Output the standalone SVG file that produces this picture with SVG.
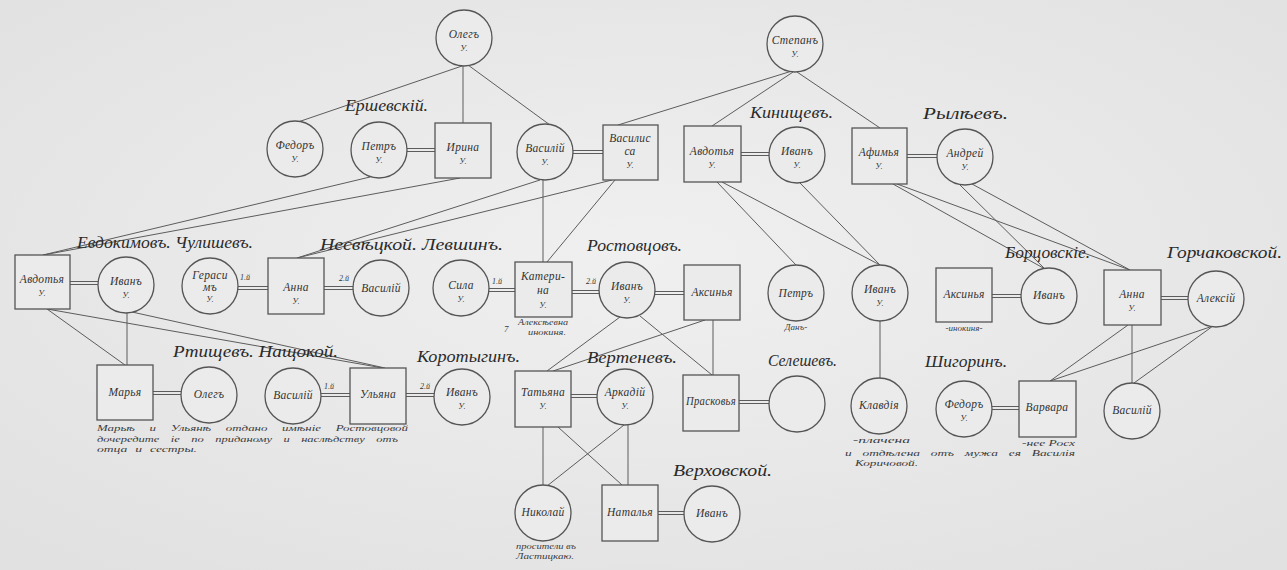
<svg xmlns="http://www.w3.org/2000/svg" width="1287" height="570" viewBox="0 0 1287 570">
<defs>
<radialGradient id="bg" cx="50%" cy="45%" r="70%">
<stop offset="0" stop-color="#f0f0f0"/>
<stop offset="1" stop-color="#e1e1e1"/>
</radialGradient>
</defs>
<style>
.c,.s{fill:#ebebeb;stroke:#555;stroke-width:1.3}
.n{font-family:"Liberation Serif","DejaVu Serif",serif;font-style:italic;font-size:11.5px;letter-spacing:0.3px;fill:#333;text-anchor:middle}
.u{font-family:"Liberation Serif","DejaVu Serif",serif;font-style:italic;font-size:8.5px;fill:#333;text-anchor:middle}
.h{font-family:"Liberation Serif","DejaVu Serif",serif;font-style:italic;font-size:16px;fill:#2a2a2a}
.a{font-family:"Liberation Serif","DejaVu Serif",serif;font-style:italic;font-size:9px;fill:#3a3a3a}
.sup{font-family:"Liberation Serif","DejaVu Serif",serif;font-style:italic;font-size:8px;fill:#333}
.l line{stroke:#5c5c5c;stroke-width:1}
.m line{stroke:#5c5c5c;stroke-width:1}
</style>
<rect width="1287" height="570" fill="url(#bg)"/>

<g id="connectors">
<g class="l">
<line x1="462" y1="66" x2="298" y2="122"/>
<line x1="463" y1="66" x2="463" y2="123"/>
<line x1="468" y1="65" x2="550" y2="125"/>
<line x1="792" y1="71" x2="618" y2="125"/>
<line x1="793" y1="72" x2="712" y2="126"/>
<line x1="797" y1="72" x2="880" y2="128"/>
<line x1="370" y1="177" x2="43" y2="255"/>
<line x1="460" y1="178" x2="43" y2="255"/>
<line x1="540" y1="180" x2="297" y2="258"/>
<line x1="612" y1="180" x2="297" y2="258"/>
<line x1="543" y1="180" x2="543" y2="262"/>
<line x1="615" y1="180" x2="547" y2="262"/>
<line x1="717" y1="182" x2="796" y2="265"/>
<line x1="722" y1="182" x2="880" y2="265"/>
<line x1="800" y1="183" x2="880" y2="265"/>
<line x1="893" y1="184" x2="1045" y2="269"/>
<line x1="897" y1="184" x2="1130" y2="270"/>
<line x1="960" y1="185" x2="1045" y2="269"/>
<line x1="972" y1="184" x2="1130" y2="270"/>
<line x1="127" y1="313" x2="127" y2="365"/>
<line x1="47" y1="309" x2="125" y2="365"/>
<line x1="47" y1="309" x2="383" y2="368"/>
<line x1="132" y1="312" x2="385" y2="368"/>
<line x1="620" y1="317" x2="547" y2="371"/>
<line x1="705" y1="320" x2="553" y2="371"/>
<line x1="640" y1="316" x2="712" y2="375"/>
<line x1="713" y1="320" x2="713" y2="375"/>
<line x1="880" y1="321" x2="880" y2="378"/>
<line x1="543" y1="427" x2="543" y2="485"/>
<line x1="624" y1="425" x2="547" y2="486"/>
<line x1="558" y1="427" x2="622" y2="485"/>
<line x1="628" y1="425" x2="628" y2="485"/>
<line x1="1128" y1="325" x2="1050" y2="381"/>
<line x1="1132" y1="325" x2="1132" y2="383"/>
<line x1="1213" y1="326" x2="1050" y2="381"/>
<line x1="1213" y1="326" x2="1134" y2="383"/>
</g>
<g class="m">
<line x1="407" y1="148.5" x2="435" y2="148.5"/><line x1="407" y1="151.5" x2="435" y2="151.5"/>
<line x1="573" y1="150.5" x2="603" y2="150.5"/><line x1="573" y1="153.5" x2="603" y2="153.5"/>
<line x1="741" y1="152.5" x2="769" y2="152.5"/><line x1="741" y1="155.5" x2="769" y2="155.5"/>
<line x1="907" y1="154.5" x2="937" y2="154.5"/><line x1="907" y1="157.5" x2="937" y2="157.5"/>
<line x1="70" y1="281.5" x2="98" y2="281.5"/><line x1="70" y1="284.5" x2="98" y2="284.5"/>
<line x1="238" y1="286.5" x2="268" y2="286.5"/><line x1="238" y1="289.5" x2="268" y2="289.5"/>
<line x1="324" y1="286.5" x2="353" y2="286.5"/><line x1="324" y1="289.5" x2="353" y2="289.5"/>
<line x1="489" y1="288.5" x2="515" y2="288.5"/><line x1="489" y1="291.5" x2="515" y2="291.5"/>
<line x1="572" y1="290.5" x2="599" y2="290.5"/><line x1="572" y1="293.5" x2="599" y2="293.5"/>
<line x1="655" y1="291.5" x2="684" y2="291.5"/><line x1="655" y1="294.5" x2="684" y2="294.5"/>
<line x1="992" y1="294.5" x2="1021" y2="294.5"/><line x1="992" y1="297.5" x2="1021" y2="297.5"/>
<line x1="1161" y1="296.5" x2="1188" y2="296.5"/><line x1="1161" y1="299.5" x2="1188" y2="299.5"/>
<line x1="153" y1="391.5" x2="181" y2="391.5"/><line x1="153" y1="394.5" x2="181" y2="394.5"/>
<line x1="321" y1="393.5" x2="350" y2="393.5"/><line x1="321" y1="396.5" x2="350" y2="396.5"/>
<line x1="406" y1="393.5" x2="434" y2="393.5"/><line x1="406" y1="396.5" x2="434" y2="396.5"/>
<line x1="571" y1="394.5" x2="597" y2="394.5"/><line x1="571" y1="397.5" x2="597" y2="397.5"/>
<line x1="739" y1="400.5" x2="769" y2="400.5"/><line x1="739" y1="403.5" x2="769" y2="403.5"/>
<line x1="992" y1="406.5" x2="1019" y2="406.5"/><line x1="992" y1="409.5" x2="1019" y2="409.5"/>
<line x1="658" y1="511.5" x2="684" y2="511.5"/><line x1="658" y1="514.5" x2="684" y2="514.5"/>
</g>
</g>

<g id="headings">
<text class="h" x="345" y="111" textLength="83" lengthAdjust="spacingAndGlyphs">Ершевскій.</text>
<text class="h" x="750" y="118" textLength="83" lengthAdjust="spacingAndGlyphs">Кинищевъ.</text>
<text class="h" x="923" y="119" textLength="85" lengthAdjust="spacingAndGlyphs">Рылѣевъ.</text>
<text class="h" x="77" y="248" textLength="176" lengthAdjust="spacingAndGlyphs">Евдокимовъ. Чулишевъ.</text>
<text class="h" x="320" y="250" textLength="183" lengthAdjust="spacingAndGlyphs">Несвѣцкой. Левшинъ.</text>
<text class="h" x="587" y="251" textLength="95" lengthAdjust="spacingAndGlyphs">Ростовцовъ.</text>
<text class="h" x="1005" y="258" textLength="85" lengthAdjust="spacingAndGlyphs">Борцовскіе.</text>
<text class="h" x="1167" y="258" textLength="115" lengthAdjust="spacingAndGlyphs">Горчаковской.</text>
<text class="h" x="173" y="357" textLength="165" lengthAdjust="spacingAndGlyphs">Ртищевъ. Нащокой.</text>
<text class="h" x="417" y="362" textLength="103" lengthAdjust="spacingAndGlyphs">Коротыгинъ.</text>
<text class="h" x="587" y="363" textLength="90" lengthAdjust="spacingAndGlyphs">Вертеневъ.</text>
<text class="h" x="768" y="366" textLength="69" lengthAdjust="spacingAndGlyphs">Селешевъ.</text>
<text class="h" x="925" y="367" textLength="82" lengthAdjust="spacingAndGlyphs">Шигоринъ.</text>
<text class="h" x="673" y="476" textLength="99" lengthAdjust="spacingAndGlyphs">Верховской.</text>
</g>

<g id="marks">
<text class="sup" x="240" y="280">1.й</text>
<text class="sup" x="339" y="281">2.й</text>
<text class="sup" x="492" y="284">1.й</text>
<text class="sup" x="586" y="284">2.й</text>
<text class="sup" x="324" y="389">1.й</text>
<text class="sup" x="420" y="389">2.й</text>
</g>

<g id="oleg1"><circle class="c" cx="464" cy="38" r="28"/><text class="n" x="464" y="38">Олегъ</text><text class="u" x="464" y="51">У.</text></g>
<g id="stepan"><circle class="c" cx="795" cy="44" r="28"/><text class="n" x="795" y="44">Степанъ</text><text class="u" x="795" y="57">У.</text></g>
<g id="fedor1"><circle class="c" cx="295" cy="149" r="28"/><text class="n" x="295" y="149">Федоръ</text><text class="u" x="295" y="162">У.</text></g>
<g id="petr1"><circle class="c" cx="379" cy="150" r="28"/><text class="n" x="379" y="150">Петръ</text><text class="u" x="379" y="163">У.</text></g>
<g id="irina"><rect class="s" x="435" y="123" width="56" height="55"/><text class="n" x="463" y="151">Ирина</text><text class="u" x="463" y="164">У.</text></g>
<g id="vasiliy1"><circle class="c" cx="545" cy="152" r="28"/><text class="n" x="545" y="152">Василій</text><text class="u" x="545" y="165">У.</text></g>
<g id="vasilisa"><rect class="s" x="603" y="125" width="55" height="55"/><text class="n" x="630" y="142">Василис</text><text class="n" x="630" y="155">са</text><text class="u" x="630" y="168">У.</text></g>
<g id="avdotya1"><rect class="s" x="684" y="126" width="57" height="56"/><text class="n" x="712" y="155">Авдотья</text><text class="u" x="712" y="168">У.</text></g>
<g id="ivan1"><circle class="c" cx="797" cy="155" r="28"/><text class="n" x="797" y="155">Иванъ</text><text class="u" x="797" y="168">У.</text></g>
<g id="afimya"><rect class="s" x="852" y="128" width="55" height="56"/><text class="n" x="879" y="156">Афимья</text><text class="u" x="879" y="169">У.</text></g>
<g id="andrey"><circle class="c" cx="965" cy="157" r="28"/><text class="n" x="965" y="157">Андрей</text><text class="u" x="965" y="170">У.</text></g>

<g id="avdotya2"><rect class="s" x="15" y="255" width="55" height="54"/><text class="n" x="42" y="283">Авдотья</text><text class="u" x="42" y="296">У.</text></g>
<g id="ivan2"><circle class="c" cx="126" cy="285" r="28"/><text class="n" x="126" y="285">Иванъ</text><text class="u" x="126" y="298">У.</text></g>
<g id="gerasim"><circle class="c" cx="210" cy="286" r="28"/><text class="n" x="210" y="279">Гераси</text><text class="n" x="210" y="291">мъ</text><text class="u" x="210" y="302">У.</text></g>
<g id="anna1"><rect class="s" x="268" y="258" width="56" height="56"/><text class="n" x="296" y="291">Анна</text><text class="u" x="296" y="304">У.</text></g>
<g id="vasiliy2"><circle class="c" cx="381" cy="288" r="28"/><text class="n" x="381" y="292">Василій</text></g>
<g id="sila"><circle class="c" cx="461" cy="288" r="28"/><text class="n" x="461" y="289">Сила</text><text class="u" x="461" y="302">У.</text></g>
<g id="katerina"><rect class="s" x="515" y="262" width="57" height="55"/><text class="n" x="543" y="280">Катери-</text><text class="n" x="543" y="294">на</text><text class="u" x="543" y="308">У.</text><text class="a" x="518" y="325" textLength="50" lengthAdjust="spacingAndGlyphs">Алексѣевна</text><text class="a" x="528" y="335" textLength="38" lengthAdjust="spacingAndGlyphs">инокиня.</text><text class="a" x="504" y="332">7</text></g>
<g id="ivan3"><circle class="c" cx="627" cy="290" r="28"/><text class="n" x="627" y="290">Иванъ</text><text class="u" x="627" y="303">У.</text></g>
<g id="aksinya1"><rect class="s" x="684" y="265" width="56" height="55"/><text class="n" x="712" y="296">Аксинья</text></g>
<g id="petr2"><circle class="c" cx="796" cy="293" r="28"/><text class="n" x="796" y="297">Петръ</text><text class="a" x="796" y="330" text-anchor="middle">Данъ-</text></g>
<g id="ivan4"><circle class="c" cx="880" cy="293" r="28"/><text class="n" x="880" y="293">Иванъ</text><text class="u" x="880" y="306">У.</text></g>
<g id="aksinya2"><rect class="s" x="936" y="268" width="56" height="54"/><text class="n" x="964" y="298">Аксинья</text><text class="a" x="964" y="331" text-anchor="middle">-инокиня-</text></g>
<g id="ivan5"><circle class="c" cx="1049" cy="296" r="28"/><text class="n" x="1049" y="299">Иванъ</text></g>
<g id="anna2"><rect class="s" x="1104" y="270" width="57" height="55"/><text class="n" x="1132" y="298">Анна</text><text class="u" x="1132" y="311">У.</text></g>
<g id="aleksey"><circle class="c" cx="1216" cy="299" r="28"/><text class="n" x="1216" y="302">Алексій</text></g>

<g id="marya"><rect class="s" x="97" y="365" width="56" height="55"/><text class="n" x="125" y="396">Марья</text></g>
<g id="oleg2"><circle class="c" cx="209" cy="395" r="28"/><text class="n" x="209" y="398">Олегъ</text></g>
<g id="vasiliy3"><circle class="c" cx="293" cy="396" r="28"/><text class="n" x="293" y="399">Василій</text></g>
<g id="ulyana"><rect class="s" x="350" y="368" width="56" height="56"/><text class="n" x="378" y="398">Ульяна</text></g>
<g id="ivan6"><circle class="c" cx="462" cy="397" r="28"/><text class="n" x="462" y="396">Иванъ</text><text class="u" x="462" y="409">У.</text></g>
<g id="tatyana"><rect class="s" x="515" y="371" width="56" height="56"/><text class="n" x="543" y="396">Татьяна</text><text class="u" x="543" y="409">У.</text></g>
<g id="arkadiy"><circle class="c" cx="625" cy="397" r="28"/><text class="n" x="625" y="396">Аркадій</text><text class="u" x="625" y="409">У.</text></g>
<g id="praskovya"><rect class="s" x="683" y="375" width="56" height="56"/><text class="n" x="711" y="405" textLength="50" lengthAdjust="spacingAndGlyphs">Прасковья</text></g>
<g id="selesheva"><circle class="c" cx="797" cy="404" r="28"/></g>
<g id="klavdiya"><circle class="c" cx="879" cy="406" r="28"/><text class="n" x="879" y="409">Клавдія</text></g>
<g id="fedor2"><circle class="c" cx="964" cy="409" r="28"/><text class="n" x="964" y="408">Федоръ</text><text class="u" x="964" y="421">У.</text></g>
<g id="varvara"><rect class="s" x="1019" y="381" width="57" height="56"/><text class="n" x="1047" y="411">Варвара</text></g>
<g id="vasiliy4"><circle class="c" cx="1132" cy="411" r="28"/><text class="n" x="1132" y="414">Василій</text></g>

<g id="nikolay"><circle class="c" cx="543" cy="513" r="28"/><text class="n" x="543" y="516">Николай</text></g>
<g id="natalya"><rect class="s" x="602" y="485" width="56" height="56"/><text class="n" x="630" y="516">Наталья</text></g>
<g id="ivan7"><circle class="c" cx="712" cy="514" r="28"/><text class="n" x="712" y="517">Иванъ</text></g>

<g id="notes">
<text class="a" x="97" y="431" textLength="311" lengthAdjust="spacingAndGlyphs" word-spacing="8">Марьѣ и Ульянѣ отдано имѣніе Ростовцовой</text>
<text class="a" x="97" y="442" textLength="301" lengthAdjust="spacingAndGlyphs" word-spacing="6">дочередите іе по приданому и наслѣдству отъ</text>
<text class="a" x="97" y="452" textLength="100" lengthAdjust="spacingAndGlyphs" word-spacing="3">отца и сестры.</text>
<text class="a" x="516" y="549" textLength="60" lengthAdjust="spacingAndGlyphs">просители въ</text>
<text class="a" x="516" y="559" textLength="58" lengthAdjust="spacingAndGlyphs">Ластицкаю.</text>
<text class="a" x="853" y="443" textLength="57" lengthAdjust="spacingAndGlyphs">-плачена</text>
<text class="a" x="1022" y="446" font-size="8" textLength="53" lengthAdjust="spacingAndGlyphs">-нее Росх</text>
<text class="a" x="845" y="456" textLength="230" lengthAdjust="spacingAndGlyphs" word-spacing="5">и отдѣлена отъ мужа ея Василія</text>
<text class="a" x="855" y="466" textLength="63" lengthAdjust="spacingAndGlyphs">Коричовой.</text>
</g>
</svg>
